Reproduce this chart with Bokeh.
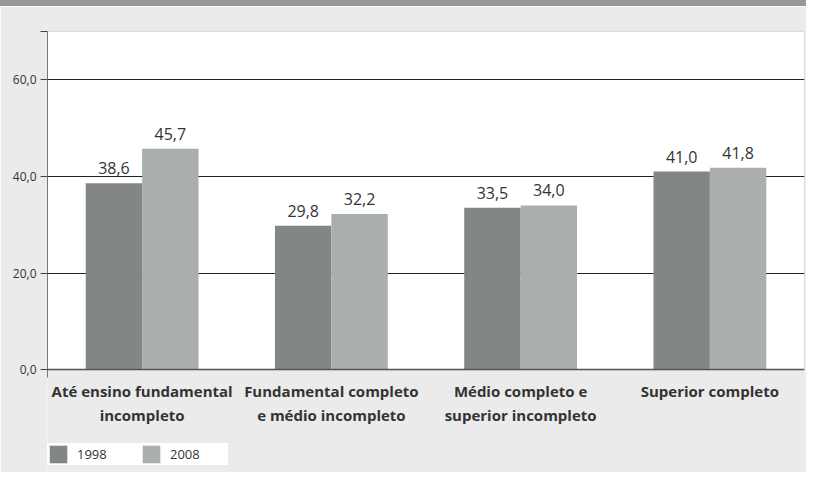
from bokeh.plotting import figure
from bokeh.models import (Range1d, FixedTicker, Legend, LegendItem, ColumnDataSource, Spacer,
                          LinearAxis, BoxAnnotation)
from bokeh.layouts import column
from bokeh.core.properties import value
from bokeh.embed import file_html
from bokeh.resources import INLINE

categories = ["Até ensino fundamental\nincompleto",
              "Fundamental completo\ne médio incompleto",
              "Médio completo e\nsuperior incompleto",
              "Superior completo"]
series_names = ["1998", "2008"]
values_1998 = [38.6, 29.8, 33.5, 41.0]
values_2008 = [45.7, 32.2, 34.0, 41.8]
y_ticks = [0, 20, 40, 60, 70]
y_tick_labels = ["0,0", "20,0", "40,0", "60,0", ""]
y_max = 70

DARK = "#838687"
LIGHT = "#abaeaf"
BG = "#ebebeb"
BANNER = "#979999"
FONT = "Open Sans"

idx = list(range(len(categories)))
bw = 0.298
src1 = ColumnDataSource(dict(x=[i - bw / 2 for i in idx], y=values_1998,
                             lbl=[f"{v:.1f}".replace(".", ",") for v in values_1998]))
src2 = ColumnDataSource(dict(x=[i + bw / 2 for i in idx], y=values_2008,
                             lbl=[f"{v:.1f}".replace(".", ",") for v in values_2008]))

# frame runs from the plot top down to the page bottom; the value axis sits at 0
p = figure(width=806, height=466, output_backend="svg", toolbar_location=None,
           x_range=Range1d(-0.5, 3.5), y_range=Range1d(-21.3, y_max),
           x_axis_location=None,
           min_border_left=47, min_border_right=2, min_border_top=25, min_border_bottom=0)
p.background_fill_color = BG
p.border_fill_color = BG
p.outline_line_color = None

plot_area = BoxAnnotation(left=-0.5, right=3.5, bottom=0, top=y_max, fill_color="white",
                          fill_alpha=1, line_color="#555555", line_width=1, level="image")
p.add_layout(plot_area)

r1 = p.vbar(x="x", top="y", width=bw, source=src1, fill_color=DARK, line_color=None)
r2 = p.vbar(x="x", top="y", width=bw, source=src2, fill_color=LIGHT, line_color=None)

for s in (src1, src2):
    p.text(x="x", y="y", text="lbl", source=s, text_align="center", text_baseline="bottom",
           y_offset=-9, text_font=value(FONT), text_font_size="16px", text_color="#333333")

p.xgrid.visible = False
p.ygrid.ticker = FixedTicker(ticks=[20, 40, 60])
p.ygrid.grid_line_color = "#222222"
p.ygrid.grid_line_width = 1

p.yaxis.ticker = FixedTicker(ticks=y_ticks)
p.yaxis.bounds = (-1.7, y_max)
p.yaxis.major_label_overrides = dict(zip(y_ticks, y_tick_labels))
p.yaxis.axis_line_color = "#777777"
p.yaxis.major_tick_line_color = "#444444"
p.yaxis.major_tick_out = 7
p.yaxis.major_tick_in = 0
p.yaxis.minor_tick_line_color = None
p.yaxis.major_label_text_font = FONT
p.yaxis.major_label_text_font_size = "12px"
p.yaxis.major_label_text_color = "#333333"
p.yaxis.major_label_standoff = 4

xaxis = LinearAxis(fixed_location=0, ticker=FixedTicker(ticks=idx),
                   major_label_overrides=dict(zip(idx, categories)))
xaxis.axis_line_color = "#555555"
xaxis.axis_line_width = 1.5
xaxis.major_tick_line_color = None
xaxis.minor_tick_line_color = None
xaxis.major_label_text_font = FONT
xaxis.major_label_text_font_style = "bold"
xaxis.major_label_text_font_size = "15px"
xaxis.major_label_text_color = "#333333"
xaxis.major_label_standoff = 5
p.add_layout(xaxis, "below")

legend = Legend(items=[LegendItem(label=series_names[0], renderers=[r1]),
                       LegendItem(label=series_names[1], renderers=[r2])],
                location=(0, 7), orientation="horizontal",
                background_fill_color="white", background_fill_alpha=1,
                border_line_color=None, glyph_width=22, glyph_height=22,
                label_standoff=8, spacing=5, padding=7, margin=0,
                label_text_font=FONT, label_text_font_size="13px",
                label_text_color="#333333", label_width=58, label_height=22)
p.add_layout(legend)

banner = Spacer(width=806, height=6, styles={"background-color": BANNER})
layout = column(banner, p, spacing=0)

open("out.html", "w").write(file_html(layout, INLINE))
